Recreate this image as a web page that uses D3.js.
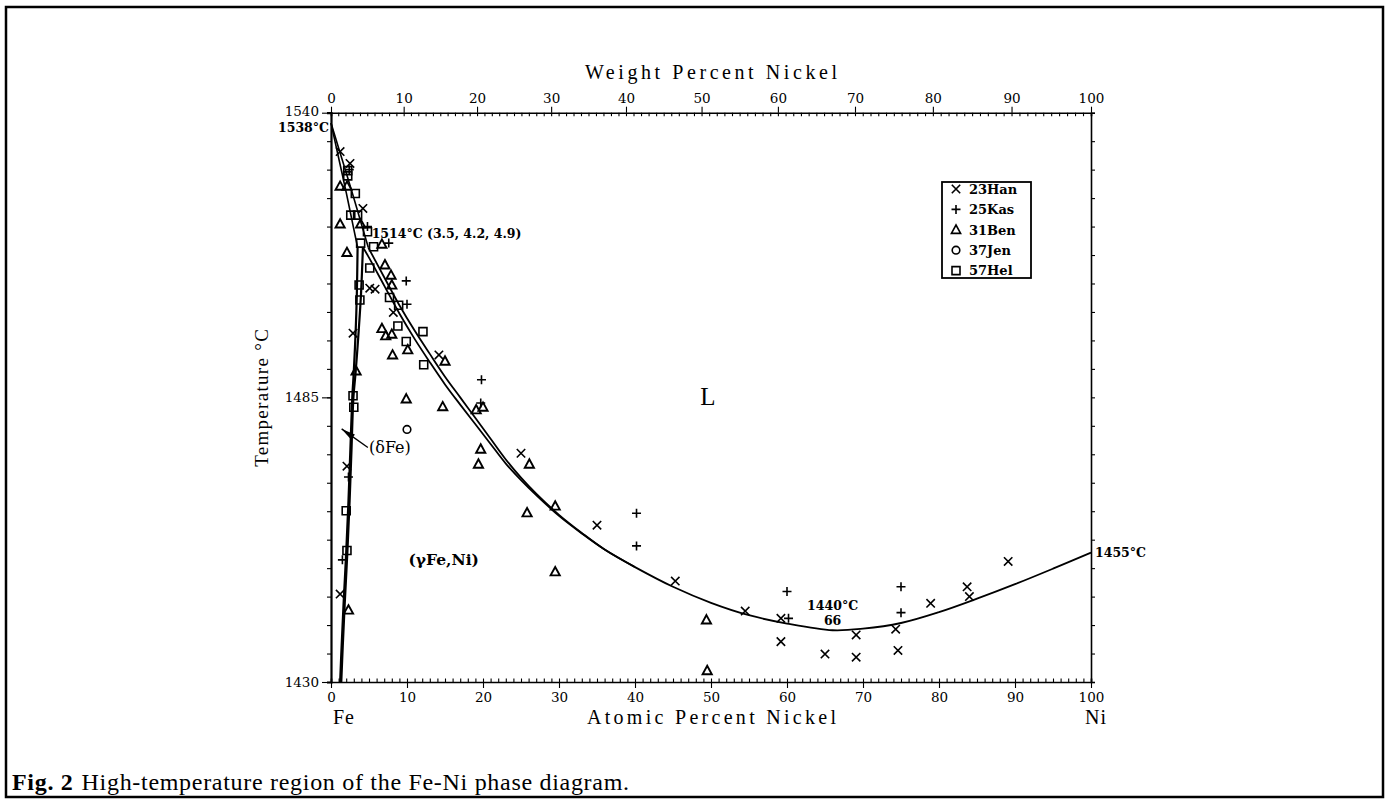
<!DOCTYPE html>
<html>
<head>
<meta charset="utf-8">
<title>Fe-Ni phase diagram, high-temperature region</title>
<script src="https://cdn.jsdelivr.net/npm/d3@7"></script>
<style>
  body { margin: 0; background: #fff; }
  svg { display: block; }
  .tick text { font-family: "DejaVu Serif", serif; font-size: 13.5px; fill: #000; }
  .tick line, .domain { stroke: #000; }
</style>
</head>
<body>
<svg id="fig" width="1389" height="801"></svg>
<script>
// ---------------- data ----------------
// axis ticks
const atomicTicks = d3.range(0, 101, 10);          // at.% Ni, labelled
const atomicMinor = d3.range(0, 101, 1);
const weightTicks = d3.range(0, 101, 10);          // wt.% Ni, labelled
const weightMinor = d3.range(0, 101, 1);
const tempLabels  = [1430, 1485, 1540];            // deg C, labelled
const tempMinor   = d3.range(0, 21).map(i => 1430 + 5.5 * i);

// atomic masses used for the wt.% -> at.% conversion of the top axis
const massFe = 55.845, massNi = 58.69;

// phase boundaries [at.% Ni, T degC]
const deltaLiquidus = [[0, 1538], [1, 1533.2], [2, 1528.4], [3, 1523.5], [4, 1518.5], [4.9, 1514]];
const deltaSolidus  = [[0, 1538], [1, 1531.3], [2, 1524.6], [3, 1517.5], [3.5, 1514]];
const deltaSolvus   = [[3.5, 1514], [3.4, 1505], [3.25, 1498], [3.0, 1490], [2.8, 1485], [2.55, 1475],
                       [2.3, 1465], [2.0, 1455], [1.65, 1445], [1.4, 1437], [1.2, 1430]];
const gammaSolvus   = [[4.2, 1514], [3.95, 1505], [3.65, 1498], [3.25, 1490], [2.95, 1485], [2.7, 1475],
                       [2.45, 1465], [2.15, 1455], [1.8, 1445], [1.55, 1437], [1.35, 1430]];
const liquidus = [[4.9, 1514], [5, 1513.7], [7, 1508.2], [9, 1502.8], [11, 1497.9], [13, 1493.4],
                  [15, 1489], [17, 1485], [19, 1481], [21, 1477], [23, 1473], [25, 1469.5], [27, 1466.4],
                  [30, 1462.3], [33, 1458.8], [36, 1455.6], [40, 1452.2], [45, 1448.4], [50, 1445.3],
                  [55, 1442.9], [60, 1441.3], [66, 1440], [70, 1440.3], [75, 1441.4], [80, 1443.5],
                  [85, 1446.1], [90, 1448.9], [95, 1451.9], [100, 1455]];
const solidus  = [[4.2, 1514], [5, 1512], [7, 1506.6], [9, 1501.2], [11, 1496.3], [13, 1491.8],
                  [15, 1487.5], [17, 1483.6], [19, 1479.8], [21, 1476], [23, 1472.2], [25, 1469],
                  [27, 1466.1], [30, 1462.1], [33, 1458.7], [36, 1455.6], [40, 1452.2]];

// experimental points [at.% Ni, T degC]
const han = [[1.2, 1532.5], [2.5, 1530.2], [4.2, 1521.5], [5.1, 1506.1], [5.8, 1505.9], [8.2, 1501.4],
             [2.9, 1497.4], [14.2, 1493.2], [2.1, 1471.7], [1.2, 1447], [25.0, 1474.2], [35.0, 1460.3],
             [45.3, 1449.5], [54.5, 1443.7], [59.2, 1442.3], [59.2, 1437.8], [65.0, 1435.4],
             [69.1, 1439.1], [69.1, 1434.8], [74.3, 1440.2], [74.6, 1436.1], [78.9, 1445.2],
             [83.7, 1448.4], [84.0, 1446.5], [89.1, 1453.3]];
const kas = [[2.4, 1529], [4.8, 1518], [7.6, 1514.8], [9.9, 1507.5], [10.0, 1503], [19.8, 1488.4],
             [19.7, 1483.9], [2.3, 1469.6], [1.5, 1453.6], [40.2, 1462.6], [40.2, 1456.3],
             [60.0, 1447.5], [60.2, 1442.3], [75.0, 1448.4], [75.0, 1443.4]];
const ben = [[1.2, 1525.8], [2.1, 1525.8], [1.2, 1518.5], [3.9, 1518.5], [2.1, 1513], [6.7, 1514.6],
             [7.1, 1510.6], [7.9, 1508.6], [8.0, 1506.7], [6.7, 1498.3], [7.2, 1496.9], [8.0, 1497.2],
             [10.1, 1494.2], [8.1, 1493.2], [15.0, 1492], [3.3, 1490.1], [9.9, 1484.7], [14.7, 1483.2],
             [19.1, 1482.6], [20.0, 1483.1], [19.7, 1475], [19.4, 1472.1], [26.1, 1472.1],
             [25.8, 1462.7], [29.5, 1464], [29.5, 1451.3], [49.4, 1442], [49.5, 1432.2], [2.3, 1443.9]];
const jen = [[10.0, 1478.8]];
const hel = [[2.2, 1528.8], [2.2, 1527.8], [3.2, 1524.4], [2.6, 1520.2], [3.5, 1520.2], [4.8, 1517],
             [3.9, 1514.8], [5.6, 1514.1], [5.1, 1510], [3.7, 1506.7], [3.8, 1503.8], [7.7, 1504.3],
             [8.9, 1502.8], [8.8, 1498.8], [12.1, 1497.7], [9.9, 1495.8], [12.2, 1491.3], [2.9, 1485.3],
             [3.0, 1483.1], [2.0, 1463.1], [2.1, 1455.4]];

const seriesNames = ["23Han", "25Kas", "31Ben", "37Jen", "57Hel"];
const seriesKinds = ["x", "plus", "tri", "circle", "square"];
const seriesData  = [han, kas, ben, jen, hel];

// ---------------- layout ----------------
const svg = d3.select("#fig");
const x = d3.scaleLinear().domain([0, 100]).range([331, 1091]);
const y = d3.scaleLinear().domain([1430, 1540]).range([682, 112.7]);

// top axis: weight percent placed at the equivalent atomic percent
function wtToAt(w) {
  const nNi = w / massNi, nFe = (100 - w) / massFe;
  return 100 * nNi / (nNi + nFe);
}
function wtScale(w) { return x(wtToAt(w)); }
wtScale.domain = () => [0, 100];
wtScale.range = () => x.range();
wtScale.copy = () => wtScale;

// outer frame
svg.append("rect").attr("x", 6).attr("y", 7).attr("width", 1377).attr("height", 790)
  .attr("fill", "none").attr("stroke", "#000").attr("stroke-width", 2.5);

// ---------------- axes ----------------
const gAxes = svg.append("g");
function noDomain(g) { g.select(".domain").remove(); }

// bottom (atomic %)
gAxes.append("g").attr("transform", `translate(0,${y(1430)})`)
  .call(d3.axisBottom(x).tickValues(atomicMinor).tickSize(-3.5).tickFormat(""))
  .call(g => g.select(".domain").attr("stroke-width", 1.6));
gAxes.append("g").attr("transform", `translate(0,${y(1430)})`)
  .call(d3.axisBottom(x).tickValues(atomicTicks).tickSize(6).tickPadding(4).tickFormat(d3.format("d")))
  .call(noDomain);

// top (weight %)
gAxes.append("g").attr("transform", `translate(0,${y(1540)})`)
  .call(d3.axisTop(wtScale).tickValues(weightMinor).tickSize(-3.5).tickFormat(""))
  .call(g => g.select(".domain").attr("stroke-width", 1.6));
gAxes.append("g").attr("transform", `translate(0,${y(1540)})`)
  .call(d3.axisTop(wtScale).tickValues(weightTicks).tickSize(6).tickPadding(4).tickFormat(d3.format("d")))
  .call(noDomain);

// left (temperature)
gAxes.append("g").attr("transform", `translate(${x(0)},0)`)
  .call(d3.axisLeft(y).tickValues(tempMinor).tickSize(4).tickFormat(""))
  .call(g => g.select(".domain").attr("stroke-width", 2.2));
gAxes.append("g").attr("transform", `translate(${x(0)},0)`)
  .call(d3.axisLeft(y).tickValues(tempLabels).tickSize(9).tickPadding(3).tickFormat(d3.format("d")))
  .call(noDomain)
  .call(g => g.selectAll(".tick text").filter(d => d === 1540).attr("dy", "0.22em"));

// right
gAxes.append("g").attr("transform", `translate(${x(100)},0)`)
  .call(d3.axisRight(y).tickValues(tempMinor).tickSize(4).tickFormat(""))
  .call(g => g.select(".domain").attr("stroke-width", 1.6));

gAxes.selectAll(".tick line").attr("stroke-width", 1.1);

// axis titles
const titleFont = "Liberation Serif";
function title(xp, yp, len, str) {
  const t = svg.append("text").attr("x", xp).attr("y", yp)
    .style("font-family", titleFont).style("font-size", "20px")
    .text(str);
  if (len) t.attr("textLength", len).attr("lengthAdjust", "spacing");
  return t;
}
title(585, 79, 252, "Weight Percent Nickel");
title(587, 724, 249, "Atomic Percent Nickel");
title(333, 724, null, "Fe").style("letter-spacing", "1px");
title(1085, 724, null, "Ni").style("letter-spacing", "1px");
svg.append("text")
  .attr("transform", `translate(268,${y(1485)}) rotate(-90)`)
  .attr("text-anchor", "middle")
  .style("font-family", titleFont).style("font-size", "19px").style("letter-spacing", "1.3px")
  .text("Temperature °C");

// ---------------- phase boundaries ----------------
const line = d3.line().x(d => x(d[0])).y(d => y(d[1])).curve(d3.curveCatmullRom.alpha(0.5));
const gCurves = svg.append("g").attr("fill", "none").attr("stroke", "#000");
[deltaLiquidus, deltaSolidus].forEach(c =>
  gCurves.append("path").attr("d", line(c)).attr("stroke-width", 1.6));
[deltaSolvus, gammaSolvus].forEach(c =>
  gCurves.append("path").attr("d", line(c)).attr("stroke-width", 2.2));
[liquidus, solidus].forEach(c =>
  gCurves.append("path").attr("d", line(c)).attr("stroke-width", 1.8));

// ---------------- markers ----------------
function markerPath(kind) {
  const p = d3.path();
  if (kind === "x") {
    p.moveTo(-4.2, -4.2); p.lineTo(4.2, 4.2); p.moveTo(-4.2, 4.2); p.lineTo(4.2, -4.2);
  } else if (kind === "plus") {
    p.moveTo(-4.5, 0); p.lineTo(4.5, 0); p.moveTo(0, -4.5); p.lineTo(0, 4.5);
  } else if (kind === "tri") {
    p.moveTo(0, -4.8); p.lineTo(4.6, 3.6); p.lineTo(-4.6, 3.6); p.closePath();
  } else if (kind === "circle") {
    p.arc(0, 0, 3.8, 0, 2 * Math.PI);
  } else {
    p.rect(-4, -4, 8, 8);
  }
  return p.toString();
}
const gPts = svg.append("g").attr("fill", "none").attr("stroke", "#000");
seriesData.forEach((data, i) => {
  gPts.selectAll(null).data(data).enter().append("path")
    .attr("transform", d => `translate(${x(d[0])},${y(d[1])})`)
    .attr("d", markerPath(seriesKinds[i]))
    .attr("stroke-width", seriesKinds[i] === "tri" ? 1.9 : 1.6);
});

// ---------------- legend ----------------
const legend = svg.append("g");
legend.append("rect").attr("x", 942).attr("y", 182).attr("width", 89).attr("height", 96)
  .attr("fill", "#fff").attr("stroke", "#000").attr("stroke-width", 1.8);
seriesNames.forEach((name, i) => {
  const cy = 189 + i * 20.4;
  legend.append("path").attr("transform", `translate(956,${cy})`)
    .attr("d", markerPath(seriesKinds[i])).attr("fill", "none").attr("stroke", "#000")
    .attr("stroke-width", 1.6);
  legend.append("text").attr("x", 969).attr("y", cy + 4.8)
    .style("font-family", "DejaVu Serif").style("font-weight", "bold").style("font-size", "13px")
    .text(name);
});

// ---------------- annotations ----------------
const bold = sel => sel.style("font-family", "DejaVu Serif").style("font-weight", "bold").style("font-size", "12.5px");
bold(svg.append("text").attr("x", x(0) - 2).attr("y", y(1538) + 9).attr("text-anchor", "end")).text("1538°C");
bold(svg.append("text").attr("x", x(5.35)).attr("y", y(1515.8))).text("1514°C (3.5, 4.2, 4.9)");
bold(svg.append("text").attr("x", x(66)).attr("y", y(1440) - 20).attr("text-anchor", "middle")).text("1440°C");
bold(svg.append("text").attr("x", x(66)).attr("y", y(1440) - 5).attr("text-anchor", "middle")).text("66");
bold(svg.append("text").attr("x", x(100) + 4).attr("y", y(1455) + 4.5)).text("1455°C");

svg.append("text").attr("x", x(49.6)).attr("y", y(1483.5)).attr("text-anchor", "middle")
  .style("font-family", "Liberation Serif").style("font-size", "25px").text("L");
svg.append("text").attr("x", x(5.0)).attr("y", y(1474.3))
  .style("font-family", "DejaVu Serif").style("font-size", "16px").text("(δFe)");
svg.append("text").attr("x", x(10.2)).attr("y", y(1452.6))
  .style("font-family", "DejaVu Serif").style("font-weight", "bold").style("font-size", "15.5px").text("(γFe,Ni)");

// leader from the (δFe) label into the narrow delta field
const leadFrom = [x(4.85), y(1475.3)], leadTo = [x(1.4), y(1478.9)];
svg.append("line").attr("x1", leadFrom[0]).attr("y1", leadFrom[1])
  .attr("x2", leadTo[0]).attr("y2", leadTo[1]).attr("stroke", "#000").attr("stroke-width", 1.4);
{
  const dx = leadFrom[0] - leadTo[0], dy = leadFrom[1] - leadTo[1];
  const len = Math.hypot(dx, dy), ux = dx / len, uy = dy / len;
  const bx = leadTo[0] + ux * 14, by = leadTo[1] + uy * 14;
  svg.append("path")
    .attr("d", `M${leadTo[0]},${leadTo[1]}L${bx - uy * 3.2},${by + ux * 3.2}L${bx + uy * 3.2},${by - ux * 3.2}Z`)
    .attr("fill", "#000");
}

// ---------------- caption ----------------
const cap = svg.append("text").attr("x", 12).attr("y", 790)
  .style("font-family", "Liberation Serif").style("font-size", "24px").style("letter-spacing", "0.7px");
cap.append("tspan").style("font-weight", "bold").text("Fig. 2");
cap.append("tspan").attr("dx", 8).text("High-temperature region of the Fe-Ni phase diagram.");
</script>
</body>
</html>
